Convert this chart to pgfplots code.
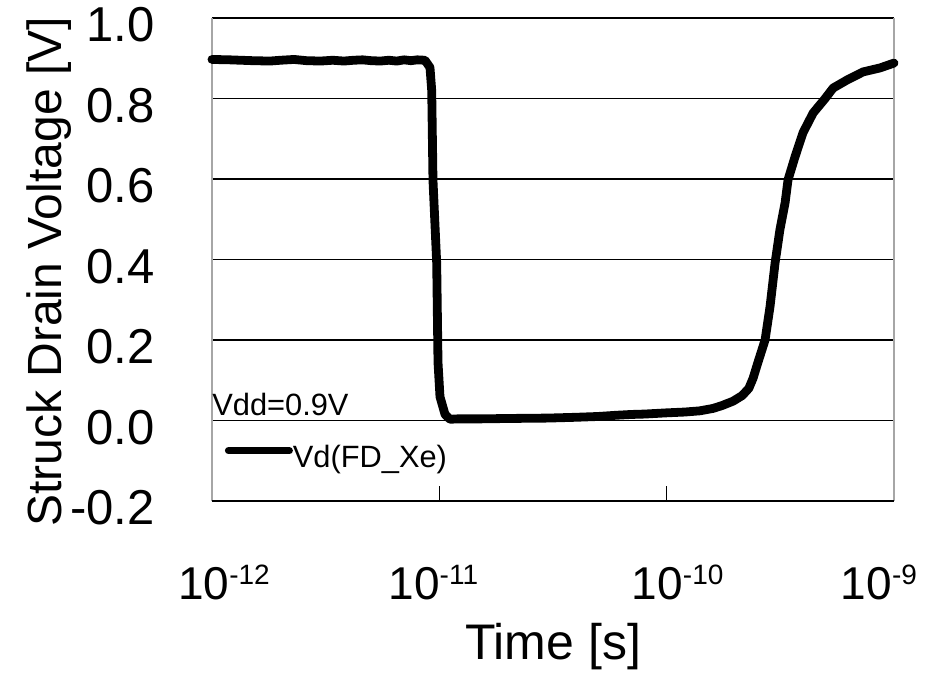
\documentclass[border=0pt]{standalone}
\usepackage{fontspec}
\setmainfont{Liberation Sans}
\usepackage{pgfplots}
\pgfplotsset{compat=1.18}

\newcommand{\tlab}{\fontsize{24.5pt}{28pt}\selectfont}
\newcommand{\xtl}{\fontsize{23pt}{26pt}\selectfont}
\newcommand{\annf}{\fontsize{15.4pt}{18pt}\selectfont}
% power-of-ten label; #2 moves the label off the tick (by half its value)
\newcommand{\pw}[2]{\hspace*{#2}10\raisebox{7.5pt}{\fontsize{14pt}{14pt}\selectfont -#1}}

\begin{document}
\begin{tikzpicture}
\begin{axis}[
    at={(0,0)}, anchor=south west,
    scale only axis,
    width=341pt, height=241.5pt,
    xmode=log,
    xmin=1e-12, xmax=1e-9,
    ymin=-0.2, ymax=1.0,
    clip=false,
    axis line style={draw=none},
    xtick={1e-12,1e-11,1e-10,1e-9},
    xticklabels={\pw{12}{12pt},\pw{11}{-6pt},\pw{10}{11pt},\pw{9}{-15pt}},
    xminorticks=false,
    xtick pos=bottom,
    tick align=inside,
    major tick length=7.5pt,
    xtick style={black, line width=0.7pt},
    ytick={-0.2,0,0.2,0.4,0.6,0.8,1.0},
    ytick style={draw=none},
    ymajorgrids,
    major grid style={black, line width=0.7pt},
    yticklabel style={/pgf/number format/fixed, /pgf/number format/fixed zerofill,
        /pgf/number format/precision=1, /pgf/number format/assume math mode=true,
        anchor=east, inner sep=0pt, xshift=-28.5pt, yshift=-3.5pt, font=\tlab},
    xticklabel style={anchor=north, inner sep=0pt, yshift=-32pt, font=\xtl},
    xlabel={Time [s]},
    ylabel={Struck Drain Voltage [V]},
    every axis x label/.style={at={(axis description cs:0.5,-0.329)}, anchor=base, inner sep=0pt, font=\fontsize{25pt}{29pt}\selectfont},
    every axis y label/.style={at={(axis description cs:-0.2199,0.4741)}, rotate=90, anchor=base, inner sep=0pt, font=\fontsize{24pt}{28pt}\selectfont},
    legend style={draw=none, fill=none, inner sep=0pt, outer sep=0pt,
        at={(axis description cs:0.019,0.063)}, anchor=south west,
        font=\annf, nodes={inner sep=0pt}},
    legend image code/.code={\draw[#1, line width=3.5pt] (0pt,0.36em) -- (30.5pt,0.36em);},
]
\draw[gray!70, line width=0.7pt] (rel axis cs:0,0) -- (rel axis cs:0,1);
\draw[gray!70, line width=0.7pt] (rel axis cs:1,0) -- (rel axis cs:1,1);
\draw[black, line width=1pt] (rel axis cs:0,0) -- (rel axis cs:1,0);

\addplot[black, line width=4.4pt, line join=round, line cap=round] coordinates {
(1e-12,0.897) (1.2e-12,0.896) (1.5e-12,0.894) (1.8e-12,0.893) (2e-12,0.895)
(2.3e-12,0.897) (2.6e-12,0.894) (3e-12,0.893) (3.4e-12,0.895) (3.8e-12,0.893)
(4.2e-12,0.895) (4.6e-12,0.896) (5e-12,0.894) (5.5e-12,0.893) (6e-12,0.895)
(6.5e-12,0.893) (7e-12,0.896) (7.5e-12,0.894) (8e-12,0.896) (8.65e-12,0.895)
(9.10e-12,0.877) (9.26e-12,0.820) (9.38e-12,0.597) (9.74e-12,0.391)
(9.87e-12,0.144) (1.007e-11,0.059) (1.06e-11,0.015) (1.115e-11,0.003)
(1.2e-11,0.004) (1.5e-11,0.004) (2e-11,0.005) (3e-11,0.006) (4e-11,0.008)
(5e-11,0.010) (6e-11,0.013) (7e-11,0.015) (8e-11,0.016) (1e-10,0.019)
(1.2e-10,0.021) (1.4e-10,0.024) (1.6e-10,0.030) (1.75e-10,0.037)
(1.96e-10,0.048) (2.15e-10,0.062) (2.3e-10,0.080) (2.4e-10,0.105)
(2.52e-10,0.144) (2.71e-10,0.200) (2.85e-10,0.283) (3.0e-10,0.392)
(3.15e-10,0.474) (3.32e-10,0.541) (3.42e-10,0.598) (3.67e-10,0.655)
(3.98e-10,0.715) (4.41e-10,0.764) (4.98e-10,0.800) (5.40e-10,0.826)
(6.22e-10,0.846) (7.31e-10,0.866) (8.69e-10,0.876) (1e-9,0.888)
};
\addlegendentry{Vd(FD\_Xe)}

\node[anchor=base west, inner sep=0pt, font=\annf] at (rel axis cs:0,0.178) {Vdd=0.9V};
\end{axis}
\pgfresetboundingbox
\path[use as bounding box] (-106pt,-86pt) rectangle (358.5pt,250.5pt);
\end{tikzpicture}
\end{document}
